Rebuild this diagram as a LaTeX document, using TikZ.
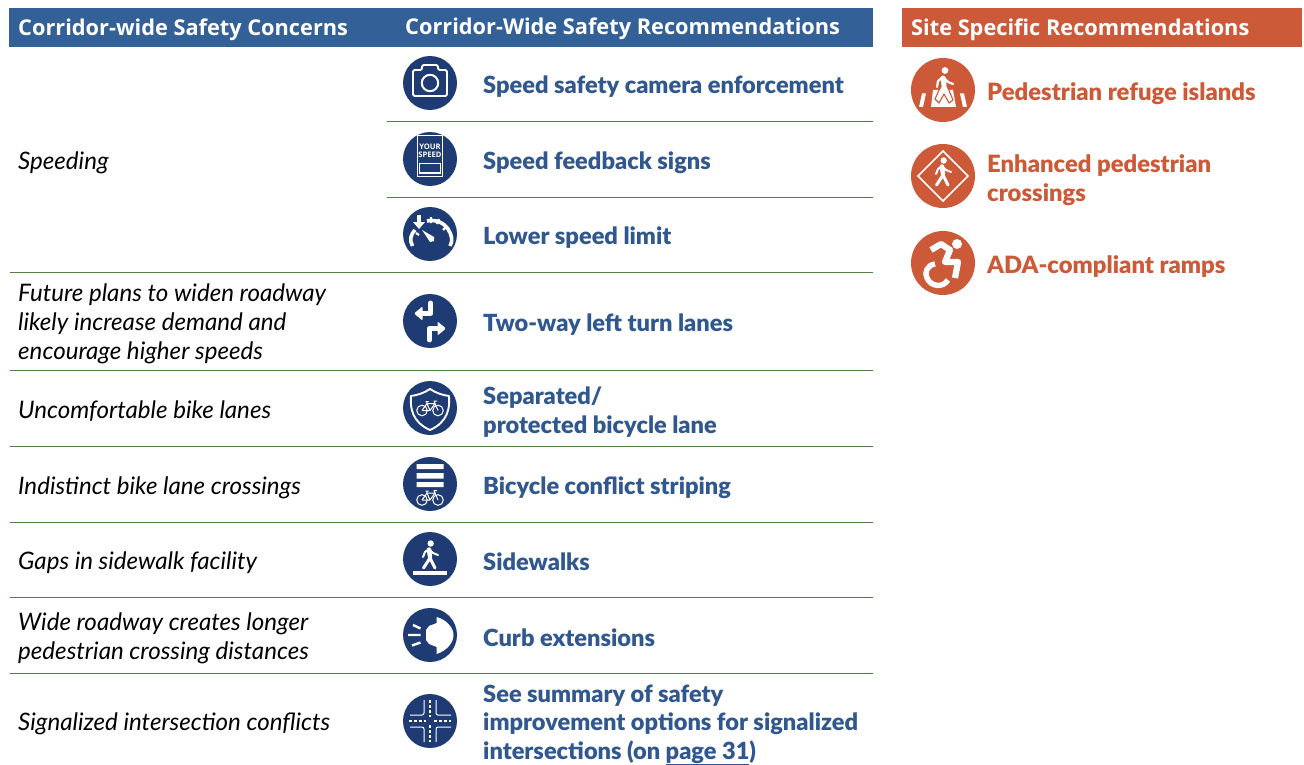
\documentclass[tikz,border=0pt]{standalone}
\usepackage{fontspec}
\setmainfont{Open Sans}
\newfontfamily\headfont{Open Sans}
\newfontfamily\itfont{Lato}[ItalicFont=* Italic]
\newfontfamily\heavyfont{Lato Black}
\definecolor{hblue}{HTML}{336197}
\definecolor{iblue}{HTML}{1F3B73}
\definecolor{tblue}{HTML}{30588F}
\definecolor{orng}{HTML}{CC5A38}
\definecolor{rulegreen}{HTML}{4F7F45}
\tikzset{
 x=1pt,y=-1pt,
 headtxt/.style={text=white,anchor=base west,inner sep=0,font=\fontsize{21.75}{26}\selectfont\bfseries\headfont},
 concern/.style={anchor=west,inner sep=0,align=left,font=\fontsize{24.1}{29pt}\selectfont\itfont\itshape},
 recblue/.style={anchor=west,inner sep=0,align=left,text=tblue,font=\fontsize{23.6}{28.4pt}\selectfont\heavyfont},
 recor/.style={anchor=west,inner sep=0,align=left,text=orng,font=\fontsize{23.8}{29pt}\selectfont\heavyfont},
 sep/.style={rulegreen,line width=1pt},
 bluedisc/.style={circle,fill=iblue,minimum size=54pt,inner sep=0,outer sep=0},
 ordisc/.style={circle,fill=orng,minimum size=64pt,inner sep=0,outer sep=0},
 pics/bike/.style={code={
  \draw[white,line width=1] (-8,3) circle[radius=5.3] (8,3) circle[radius=5.3];
  \draw[white,line width=1,line join=round] (-8,3)--(-3,-4)--(5,-4)--(0,3)--(-8,3) (-3,-4)--(0,3) (8,3)--(4,-6.5)--(7,-6.5) (-4.5,-6)--(-1.5,-6) (-3.2,-6)--(-3,-4);
 }},
 pics/walker/.style={code={
  \fill[white] (0.7,-15.5) circle[radius=3.2];
  \draw[white,line width=4.4,line cap=round,line join=round] (-1,-9.5)--(0,-2);
  \draw[white,line width=3,line cap=round,line join=round] (0,-1)--(-6.5,9) (0,-1)--(5,9);
  \draw[white,line width=2,line cap=round,line join=round] (-1,-10)--(-5,-7)--(-7,-2) (-1,-10)--(3,-6)--(8,-4);
 }},
 pics/camera/.style={code={
  \draw[white,line width=1.8,line join=round,rounded corners=1.5] (-17,-13)--(-8,-13)--(-8,-18)--(8,-18)--(8,-13)--(17,-13)--(17,13)--(-17,13)--cycle;
  \draw[white,line width=2] (0,0) circle[radius=8.2];
 }},
 pics/signicon/.style={code={
  \fill[white] (-13,-24) rectangle (13,18);
  \fill[iblue] (-11.7,-22.7) rectangle (11.7,16.7);
  \draw[white,line width=1] (-10.5,4.3) rectangle (10.5,14);
  \node[white,inner sep=0,align=center,font=\fontsize{7.6}{7.7pt}\selectfont\bfseries\headfont] (#1) at (0,-8) {YOUR\\SPEED};
 }},
 pics/gauge/.style={code={
  \draw[white,line width=3.6] (-17.5,12) .. controls (-21,6) and (-19,0) .. (-15,-4);
  \draw[white,line width=3.6] (-3,-13) .. controls (6,-15) and (14,-11) .. (18,-5) .. controls (22,1) and (23,7) .. (20,12);
  \draw[white,line width=2.2] (-14,-1)--(-11,1) (1,-17)--(1,-11) (9,-15)--(7,-10) (17,-8)--(13,-4);
  \draw[white,line width=4] (-11,-19)--(-11,-10);
  \fill[white] (-17,-12)--(-5,-12)--(-11,-5)--cycle;
  \fill[white] (-8,-4)--(4,3)--(4,7)--(0,8)--cycle;
 }},
 pics/turns/.style={code={
  \draw[white,line width=4.8,line cap=round,line join=round] (0.7,-18)--(0.7,-7.5)--(-9,-7.5);
  \fill[white,rounded corners=1] (-16,-7.5)--(-7.5,-14.5)--(-7.5,-0.5)--cycle;
  \draw[white,line width=4.8,line cap=round,line join=round] (-.7,19)--(-.7,7.5)--(9,7.5);
  \fill[white,rounded corners=1] (16,7.5)--(7.5,.5)--(7.5,14.5)--cycle;
 }},
 pics/shieldicon/.style={code={
  \draw[white,line width=1.9,line join=round] (0,-19) .. controls (-6,-15) and (-12,-13) .. (-19,-12) .. controls (-20,0) and (-18,14) .. (0,22) .. controls (18,14) and (20,0) .. (19,-12) .. controls (12,-13) and (6,-15) .. (0,-19) -- cycle;
  \pic at (0,-.5) {bike};
 }},
 pics/stripes/.style={code={
  \fill[white] (-13.5,-20) rectangle (13.5,-15) (-13.5,-11) rectangle (13.5,-5.5) (-13.5,-2) rectangle (13.5,3);
  \pic at (0,13) {bike};
 }},
 pics/walkicon/.style={code={
  \pic at (0,0) {walker};
  \fill[white] (-17,12) rectangle (17,16);
 }},
 pics/curb/.style={code={
  \fill[white] (6.7,-18)--(6.7,-12)--(-1,-9)--(-4,-5)--(-4,5)--(-1,9)--(6.7,12)--(6.7,19) .. controls (18,15) and (23.5,7) .. (23.5,0) .. controls (23.5,-7) and (17,-15) .. (6.7,-18)--cycle;
  \draw[white,line width=2.4] (-17,-10)--(-9.5,-6.5) (-22,0)--(-9.5,0) (-18,10.5)--(-9.5,7.5);
 }},
 pics/crossing/.style={code={
  \draw[white,line width=1,rounded corners=2] (-6,-21)--(-6,-6)--(-20,-6) (6,-21)--(6,-6)--(21,-6) (-6,21)--(-6,6)--(-20,6) (6,21)--(6,6)--(21,6);
  \draw[white,line width=1.1,dash pattern=on 3pt off 2pt] (0,-21)--(0,-4) (0,4)--(0,21) (-21,0)--(-4,0) (4,0)--(21,0);
 }},
 pics/refuge/.style={code={
  \fill[white] (-10,0)--(10,0)--(13,17)--(-12,17)--cycle;
  \fill[white] (-21,3.5)--(-17,3.5)--(-20,17)--(-24,17)--cycle (17,3.5)--(21,3.5)--(24,17)--(20,17)--cycle;
  \fill[white] (2,-19.5) circle[radius=3.4];
  \draw[white,line width=5,line cap=round,line join=round] (0,-12)--(1,-5);
  \draw[white,line width=2.2,line cap=round,line join=round] (0,-13)--(-5,-9)--(-6,-3) (0,-13)--(5,-8)--(10,-6);
  \draw[white,line width=3.8,line cap=round,line join=round] (1,-4)--(-5,8) (1,-4)--(7,8);
  \draw[orng,line width=1.1,line join=round] (-3,-2)--(-8,9)--(-4,13)--(1,4)--(6,13)--(10,10)--(5,-2);
 }},
 pics/diamondicon/.style={code={
  \draw[white,line width=1.6,line join=miter] (0,-25)--(25,0)--(0,25)--(-25,0)--cycle;
  \pic at (0,0) {walker};
 }},
 pics/ada/.style={code={
  \fill[white] (14,-19) circle[radius=5];
  \draw[white,line width=6.2,line join=round] (-12,-13)--(-2,-19)--(7,-13)--(2,-1)--(15,-1)--(12,15);
  \draw[white,line width=5.4] (-8,1) .. controls (-16,2) and (-19,10) .. (-16,15) .. controls (-12,24) and (0,25) .. (5,17);
 }},
}
\begin{document}
\begin{tikzpicture}
\useasboundingbox (0,0) rectangle (1304,765);
% header bands
\fill[hblue] (9,8) rectangle (873,47);
\fill[orng] (902,8) rectangle (1302,47);
\node[headtxt] (h1) at (18,36) {Corridor-wide Safety Concerns};
\node[headtxt] (h2) at (405,35) {Corridor-Wide Safety Recommendations};
\node[headtxt] (h3) at (911,36) {Site Specific Recommendations};
% rules
\foreach \yy in {122,197}{\draw[sep] (387,\yy)--(873,\yy);}
\foreach \yy in {272,370,446,522,597,673}{\draw[sep] (10,\yy)--(873,\yy);}
% left column
\node[concern] (c1) at (18,163) {Speeding};
\node[concern] (c2) at (18,324) {Future plans to widen roadway\\likely increase demand and\\encourage higher speeds};
\node[concern] (c3) at (18,411) {Uncomfortable bike lanes};
\node[concern] (c4) at (18,488) {Indistinct bike lane crossings};
\node[concern] (c5) at (18,563) {Gaps in sidewalk facility};
\node[concern] (c6) at (18,638) {Wide roadway creates longer\\pedestrian crossing distances};
\node[concern] (c7) at (18,724) {Signalized intersection conflicts};
% icons
\node[bluedisc] (i1) at (430,83) {}; \pic at (i1) {camera};
\node[bluedisc] (i2) at (430,159) {}; \pic at (i2) {signicon=yt};
\node[bluedisc] (i3) at (430,234) {}; \pic at (i3) {gauge};
\node[bluedisc] (i4) at (430,321) {}; \pic at (i4) {turns};
\node[bluedisc] (i5) at (430,408) {}; \pic at (i5) {shieldicon};
\node[bluedisc] (i6) at (430,484) {}; \pic at (i6) {stripes};
\node[bluedisc] (i7) at (430,559) {}; \pic at (i7) {walkicon};
\node[bluedisc] (i8) at (430,635) {}; \pic at (i8) {curb};
\node[bluedisc] (i9) at (430,721) {}; \pic at (i9) {crossing};
% recommendations
\node[recblue] (r1) at (483,87) {Speed safety camera enforcement};
\node[recblue] (r2) at (483,163) {Speed feedback signs};
\node[recblue] (r3) at (483,238) {Lower speed limit};
\node[recblue] (r4) at (483,325) {Two-way left turn lanes};
\node[recblue] (r5) at (483,412) {Separated/\\protected bicycle lane};
\node[recblue] (r6) at (483,488) {Bicycle conflict striping};
\node[recblue] (r7) at (483,562) {Sidewalks};
\node[recblue] (r8) at (483,638) {Curb extensions};
\node[recblue] (r9) at (483,725) {See summary of safety\\improvement options for signalized\\intersections (on \underline{page 31})};
% site specific
\node[ordisc] (o1) at (943,90) {}; \pic at (o1) {refuge};
\node[ordisc] (o2) at (943,176) {}; \pic at (o2) {diamondicon};
\node[ordisc] (o3) at (943,263) {}; \pic at (o3) {ada};
\node[recor] (s1) at (987,94) {Pedestrian refuge islands};
\node[recor] (s2) at (987,180) {Enhanced pedestrian\\crossings};
\node[recor] (s3) at (987,267) {ADA-compliant ramps};
\end{tikzpicture}
\end{document}
